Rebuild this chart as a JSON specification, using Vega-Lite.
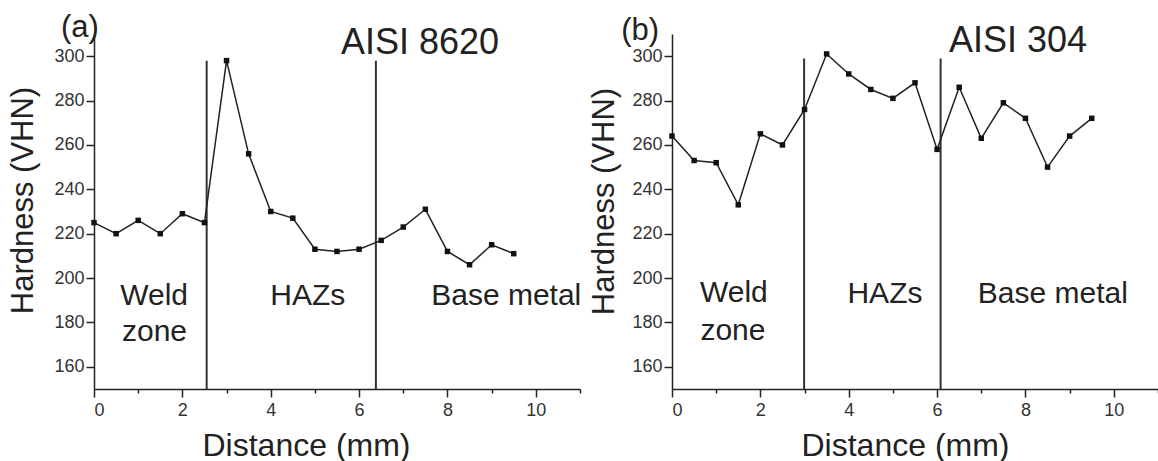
{
  "$schema": "https://vega.github.io/schema/vega-lite/v6.json",
  "padding": {"left": 7, "top": 12, "right": 0, "bottom": 0},
  "background": "white",
  "spacing": 92,
  "bounds": "flush",
  "config": {
    "view": {"stroke": null},
    "font": "Liberation Sans",
    "axis": {
      "domainColor": "#222",
      "domainWidth": 1.5,
      "tickColor": "#222",
      "tickWidth": 1.5,
      "labelColor": "#333",
      "labelFont": "Liberation Sans",
      "labelFontSize": 18,
      "labelOverlap": false,
      "titleFont": "Liberation Sans",
      "titleFontWeight": "normal",
      "titleColor": "#222",
      "grid": false
    }
  },
  "datasets": {
    "a": [
      {"d": 0, "h": 225}, {"d": 0.5, "h": 220}, {"d": 1, "h": 226}, {"d": 1.5, "h": 220},
      {"d": 2, "h": 229}, {"d": 2.5, "h": 225}, {"d": 3, "h": 298}, {"d": 3.5, "h": 256},
      {"d": 4, "h": 230}, {"d": 4.5, "h": 227}, {"d": 5, "h": 213}, {"d": 5.5, "h": 212},
      {"d": 6, "h": 213}, {"d": 6.5, "h": 217}, {"d": 7, "h": 223}, {"d": 7.5, "h": 231},
      {"d": 8, "h": 212}, {"d": 8.5, "h": 206}, {"d": 9, "h": 215}, {"d": 9.5, "h": 211}
    ],
    "b": [
      {"d": 0, "h": 264}, {"d": 0.5, "h": 253}, {"d": 1, "h": 252}, {"d": 1.5, "h": 233},
      {"d": 2, "h": 265}, {"d": 2.5, "h": 260}, {"d": 3, "h": 276}, {"d": 3.5, "h": 301},
      {"d": 4, "h": 292}, {"d": 4.5, "h": 285}, {"d": 5, "h": 281}, {"d": 5.5, "h": 288},
      {"d": 6, "h": 258}, {"d": 6.5, "h": 286}, {"d": 7, "h": 263}, {"d": 7.5, "h": 279},
      {"d": 8, "h": 272}, {"d": 8.5, "h": 250}, {"d": 9, "h": 264}, {"d": 9.5, "h": 272}
    ],
    "ra": [{"d": 2.55, "lo": 150, "hi": 298}, {"d": 6.38, "lo": 150, "hi": 298}],
    "rb": [{"d": 2.99, "lo": 150, "hi": 299}, {"d": 6.08, "lo": 150, "hi": 299}],
    "ta": [
      {"d": 1.36, "h": 188, "t": "Weld", "s": 30},
      {"d": 1.37, "h": 171.6, "t": "zone", "s": 30},
      {"d": 4.84, "h": 188, "t": "HAZs", "s": 30},
      {"d": 9.33, "h": 188, "t": "Base metal", "s": 30},
      {"d": 7.38, "h": 301, "t": "AISI 8620", "s": 36},
      {"d": -0.32, "h": 308.6, "t": "(a)", "s": 31}
    ],
    "tb": [
      {"d": 1.4, "h": 189.2, "t": "Weld", "s": 30},
      {"d": 1.38, "h": 172.1, "t": "zone", "s": 30},
      {"d": 4.82, "h": 188.8, "t": "HAZs", "s": 30},
      {"d": 8.62, "h": 188.8, "t": "Base metal", "s": 30},
      {"d": 7.83, "h": 301.9, "t": "AISI 304", "s": 36},
      {"d": -0.72, "h": 307.3, "t": "(b)", "s": 31}
    ]
  },
  "hconcat": [
    {
      "width": 486,
      "height": 355,
      "layer": [
        {
          "data": {"name": "ra"},
          "mark": {"type": "rule", "color": "#333", "strokeWidth": 2},
          "encoding": {
            "x": {"field": "d", "type": "quantitative", "scale": {"domain": [0, 11], "nice": false},
              "axis": {"title": "Distance (mm)", "titleFontSize": 32, "titleX": 212, "titleY": 66, "titleBaseline": "alphabetic",
                "values": [0,1,2,3,4,5,6,7,8,9,10,11],
                "labelExpr": "datum.value % 2 === 0 ? datum.label : ''",
                "tickSize": {"condition": {"test": "datum.value % 2 === 0", "value": 8}, "value": 4},
                "labelPadding": 4}},
            "y": {"field": "lo", "type": "quantitative", "scale": {"domain": [150, 310], "nice": false, "zero": false},
              "axis": {"title": "Hardness (VHN)", "titleFontSize": 31, "titleX": -62, "titleY": 166, "titleBaseline": "alphabetic", "titleAlign": "center",
                "values": [160,170,180,190,200,210,220,230,240,250,260,270,280,290,300],
                "labelExpr": "datum.value % 20 === 0 ? datum.label : ''",
                "tickSize": {"condition": {"test": "datum.value % 20 === 0", "value": 8}, "value": 4},
                "labelPadding": 2}},
            "y2": {"field": "hi"}
          }
        },
        {
          "data": {"name": "a"},
          "mark": {"type": "line", "color": "#222", "strokeWidth": 1.5,
            "point": {"shape": "square", "size": 30, "filled": true, "color": "#111", "opacity": 1}},
          "encoding": {
            "x": {"field": "d", "type": "quantitative"},
            "y": {"field": "h", "type": "quantitative"}
          }
        },
        {
          "data": {"name": "ta"},
          "mark": {"type": "text", "color": "#222", "font": "Liberation Sans", "align": "center", "baseline": "alphabetic"},
          "encoding": {
            "x": {"field": "d", "type": "quantitative"},
            "y": {"field": "h", "type": "quantitative"},
            "text": {"field": "t"},
            "size": {"field": "s", "type": "quantitative", "scale": null}
          }
        }
      ]
    },
    {
      "width": 486,
      "height": 355,
      "layer": [
        {
          "data": {"name": "rb"},
          "mark": {"type": "rule", "color": "#333", "strokeWidth": 2},
          "encoding": {
            "x": {"field": "d", "type": "quantitative", "scale": {"domain": [0, 11], "nice": false},
              "axis": {"title": "Distance (mm)", "titleFontSize": 32, "titleX": 233, "titleY": 66, "titleBaseline": "alphabetic",
                "values": [0,1,2,3,4,5,6,7,8,9,10,11],
                "labelExpr": "datum.value % 2 === 0 ? datum.label : ''",
                "tickSize": {"condition": {"test": "datum.value % 2 === 0", "value": 8}, "value": 4},
                "labelPadding": 4}},
            "y": {"field": "lo", "type": "quantitative", "scale": {"domain": [150, 310], "nice": false, "zero": false},
              "axis": {"title": "Hardness (VHN)", "titleFontSize": 31, "titleX": -59, "titleY": 167, "titleBaseline": "alphabetic", "titleAlign": "center",
                "values": [160,170,180,190,200,210,220,230,240,250,260,270,280,290,300],
                "labelExpr": "datum.value % 20 === 0 ? datum.label : ''",
                "tickSize": {"condition": {"test": "datum.value % 20 === 0", "value": 8}, "value": 4},
                "labelPadding": 2}},
            "y2": {"field": "hi"}
          }
        },
        {
          "data": {"name": "b"},
          "mark": {"type": "line", "color": "#222", "strokeWidth": 1.5,
            "point": {"shape": "square", "size": 30, "filled": true, "color": "#111", "opacity": 1}},
          "encoding": {
            "x": {"field": "d", "type": "quantitative"},
            "y": {"field": "h", "type": "quantitative"}
          }
        },
        {
          "data": {"name": "tb"},
          "mark": {"type": "text", "color": "#222", "font": "Liberation Sans", "align": "center", "baseline": "alphabetic"},
          "encoding": {
            "x": {"field": "d", "type": "quantitative"},
            "y": {"field": "h", "type": "quantitative"},
            "text": {"field": "t"},
            "size": {"field": "s", "type": "quantitative", "scale": null}
          }
        }
      ]
    }
  ]
}
